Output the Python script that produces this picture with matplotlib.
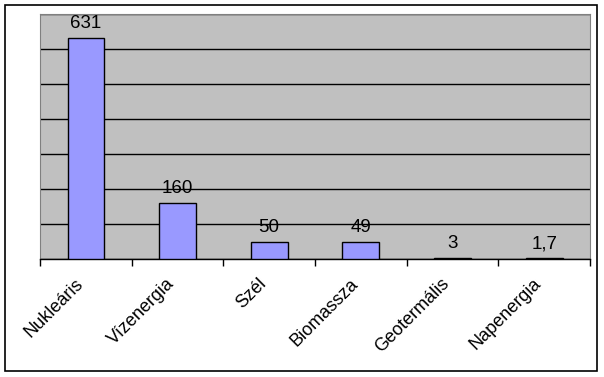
import matplotlib
matplotlib.use("Agg")
import matplotlib.pyplot as plt
from matplotlib.patches import Rectangle

categories = ["Nukleáris", "Vízenergia", "Szél", "Biomassza", "Geotermális", "Napenergia"]
values = [631, 160, 50, 49, 3, 1.7]
value_labels = ["631", "160", "50", "49", "3", "1,7"]

plt.rcParams['font.family'] = ['Liberation Sans', 'DejaVu Sans']

fig = plt.figure(figsize=(6.04, 3.77), dpi=100)
fig.patch.set_facecolor("white")
fig.patches.append(Rectangle((5/604, 1-371/377), 592/604, 366/377, transform=fig.transFigure,
                             fill=False, edgecolor="black", linewidth=1.2))

ax = fig.add_axes([40/604, 1-259/377, 550/604, 245/377])
ax.set_facecolor("#C0C0C0")
x = list(range(len(categories)))
ax.bar(x, values, width=0.4, color="#9999FF", edgecolor="black", linewidth=1.0, zorder=3)
ax.set_xlim(-0.5, len(categories) - 0.5)
ax.set_ylim(0, 700)
ax.set_yticks(range(0, 701, 100))
ax.yaxis.grid(True, color="black", linewidth=1.0, zorder=1)
ax.set_axisbelow(True)
ax.tick_params(axis='y', left=False, labelleft=False)
ax.set_xticks([i - 0.5 for i in range(len(categories) + 1)])
ax.set_xticklabels([])
ax.tick_params(axis='x', direction='out', length=5, width=1, color='black')
for s in ['left', 'right', 'top']:
    ax.spines[s].set_color("#808080")
ax.spines['bottom'].set_color("black")
ax.spines['bottom'].set_linewidth(1.0)

for i, (v, lab) in enumerate(zip(values, value_labels)):
    ax.annotate(lab, (i, v), xytext=(0, 7), textcoords='offset points',
                ha='center', va='baseline', fontsize=13.5)

for i, c in enumerate(categories):
    ax.annotate(c, (i, 0), xytext=(-4, -16), textcoords='offset points',
                ha='right', va='center', rotation=45, rotation_mode='anchor', fontsize=13,
                annotation_clip=False)

fig.savefig("out.png", dpi=100, facecolor="white")
